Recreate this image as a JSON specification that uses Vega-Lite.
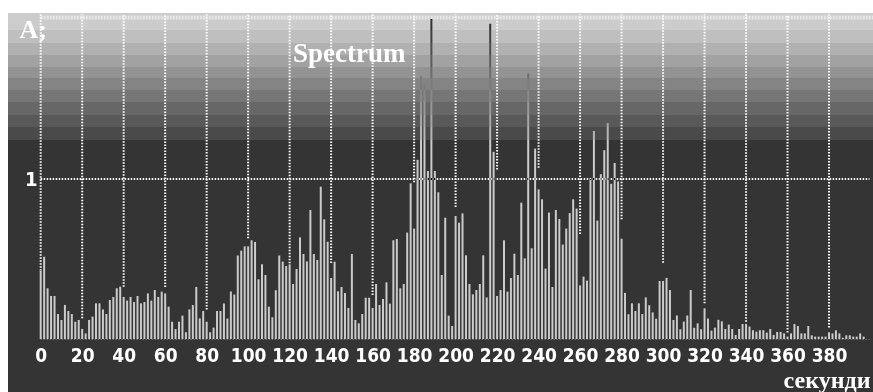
{
  "$schema": "https://vega.github.io/schema/vega-lite/v6.json",
  "width": 865,
  "height": 379,
  "autosize": {"type": "none"},
  "padding": {"left": 8, "top": 13, "right": 0, "bottom": 0},
  "background": "white",
  "config": {"view": {"stroke": null, "fill": "#343434"}},
  "datasets": {
    "spec": [
      {"t":0,"a":0.427},{"t":1.67,"a":0.514},{"t":3.33,"a":0.317},{"t":5,"a":0.269},{"t":6.67,"a":0.269},{"t":8.33,"a":0.156},{"t":10,"a":0.119},{"t":11.67,"a":0.213},{"t":13.33,"a":0.175},{"t":15,"a":0.156},
      {"t":16.67,"a":0.108},{"t":18.33,"a":0.119},{"t":20,"a":0.063},{"t":21.67,"a":0.035},{"t":23.33,"a":0.119},{"t":25,"a":0.14},{"t":26.67,"a":0.223},{"t":28.33,"a":0.223},{"t":30,"a":0.185},{"t":31.67,"a":0.156},
      {"t":33.33,"a":0.244},{"t":35,"a":0.263},{"t":36.67,"a":0.317},{"t":38.33,"a":0.327},{"t":40,"a":0.263},{"t":41.67,"a":0.24},{"t":43.33,"a":0.263},{"t":45,"a":0.231},{"t":46.67,"a":0.269},{"t":48.33,"a":0.223},
      {"t":50,"a":0.231},{"t":51.67,"a":0.285},{"t":53.33,"a":0.24},{"t":55,"a":0.306},{"t":56.67,"a":0.263},{"t":58.33,"a":0.296},{"t":60,"a":0.285},{"t":61.67,"a":0.202},{"t":63.33,"a":0.108},{"t":65,"a":0.062},
      {"t":66.67,"a":0.108},{"t":68.33,"a":0.146},{"t":70,"a":0.042},{"t":71.67,"a":0.185},{"t":73.33,"a":0.212},{"t":75,"a":0.325},{"t":76.67,"a":0.129},{"t":78.33,"a":0.175},{"t":80,"a":0.108},{"t":81.67,"a":0.042},
      {"t":83.33,"a":0.071},{"t":85,"a":0.175},{"t":86.67,"a":0.175},{"t":88.33,"a":0.222},{"t":90,"a":0.128},{"t":91.67,"a":0.297},{"t":93.33,"a":0.278},{"t":95,"a":0.522},{"t":96.67,"a":0.552},{"t":98.33,"a":0.579},
      {"t":100,"a":0.579},{"t":101.67,"a":0.617},{"t":103.33,"a":0.607},{"t":105,"a":0.373},{"t":106.67,"a":0.467},{"t":108.33,"a":0.4},{"t":110,"a":0.202},{"t":111.67,"a":0.136},{"t":113.33,"a":0.305},{"t":115,"a":0.522},
      {"t":116.67,"a":0.484},{"t":118.33,"a":0.456},{"t":120,"a":0.467},{"t":121.67,"a":0.344},{"t":123.33,"a":0.4375},{"t":125,"a":0.635},{"t":126.67,"a":0.531},{"t":128.33,"a":0.485},{"t":130,"a":0.806},{"t":131.67,"a":0.531},
      {"t":133.33,"a":0.494},{"t":135,"a":0.952},{"t":136.67,"a":0.748},{"t":138.33,"a":0.608},{"t":140,"a":0.381},{"t":141.67,"a":0.483},{"t":143.33,"a":0.298},{"t":145,"a":0.325},{"t":146.67,"a":0.2875},{"t":148.33,"a":0.194},
      {"t":150,"a":0.531},{"t":151.67,"a":0.119},{"t":153.33,"a":0.098},{"t":155,"a":0.156},{"t":156.67,"a":0.258},{"t":158.33,"a":0.258},{"t":160,"a":0.194},{"t":161.67,"a":0.344},{"t":163.33,"a":0.2125},{"t":165,"a":0.25},
      {"t":166.67,"a":0.354},{"t":168.33,"a":0.221},{"t":170,"a":0.617},{"t":171.67,"a":0.625},{"t":173.33,"a":0.317},{"t":175,"a":0.344},{"t":176.67,"a":0.665},{"t":178.33,"a":0.973},{"t":180,"a":0.69},{"t":181.67,"a":1.12},
      {"t":183.33,"a":1.64},{"t":185,"a":1.59},{"t":186.67,"a":1.05},{"t":188.33,"a":2.0},{"t":190,"a":1.05},{"t":191.67,"a":0.917},{"t":193.33,"a":0.4},{"t":195,"a":0.758},{"t":196.67,"a":0.146},{"t":198.33,"a":0.081},
      {"t":200,"a":0.769},{"t":201.67,"a":0.727},{"t":203.33,"a":0.785},{"t":205,"a":0.523},{"t":206.67,"a":0.344},{"t":208.33,"a":0.279},{"t":210,"a":0.306},{"t":211.67,"a":0.344},{"t":213.33,"a":0.523},{"t":215,"a":0.26},
      {"t":216.67,"a":1.97},{"t":218.33,"a":1.17},{"t":220,"a":0.269},{"t":221.67,"a":0.306},{"t":223.33,"a":0.617},{"t":225,"a":0.296},{"t":226.67,"a":0.381},{"t":228.33,"a":0.533},{"t":230,"a":0.4},{"t":231.67,"a":0.852},
      {"t":233.33,"a":0.504},{"t":235,"a":1.66},{"t":236.67,"a":0.567},{"t":238.33,"a":1.19},{"t":240,"a":0.935},{"t":241.67,"a":0.873},{"t":243.33,"a":0.44},{"t":245,"a":0.79},{"t":246.67,"a":0.325},{"t":248.33,"a":0.806},
      {"t":250,"a":0.75},{"t":251.67,"a":0.59},{"t":253.33,"a":0.69},{"t":255,"a":0.787},{"t":256.67,"a":0.873},{"t":258.33,"a":0.815},{"t":260,"a":0.335},{"t":261.67,"a":0.39},{"t":263.33,"a":0.365},{"t":265,"a":1.0},
      {"t":266.67,"a":1.3},{"t":268.33,"a":0.74},{"t":270,"a":1.03},{"t":271.67,"a":1.18},{"t":273.33,"a":1.35},{"t":275,"a":0.97},{"t":276.67,"a":1.1},{"t":278.33,"a":0.985},{"t":280,"a":0.627},{"t":281.67,"a":0.288},
      {"t":283.33,"a":0.155},{"t":285,"a":0.223},{"t":286.67,"a":0.175},{"t":288.33,"a":0.223},{"t":290,"a":0.156},{"t":291.67,"a":0.26},{"t":293.33,"a":0.211},{"t":295,"a":0.166},{"t":296.67,"a":0.127},{"t":298.33,"a":0.3625},
      {"t":300,"a":0.3625},{"t":301.67,"a":0.382},{"t":303.33,"a":0.306},{"t":305,"a":0.119},{"t":306.67,"a":0.147},{"t":308.33,"a":0.061},{"t":310,"a":0.109},{"t":311.67,"a":0.147},{"t":313.33,"a":0.306},{"t":315,"a":0.07},
      {"t":316.67,"a":0.098},{"t":318.33,"a":0.061},{"t":320,"a":0.192},{"t":321.67,"a":0.128},{"t":323.33,"a":0.052},{"t":325,"a":0.071},{"t":326.67,"a":0.12},{"t":328.33,"a":0.11},{"t":330,"a":0.0625},{"t":331.67,"a":0.09},
      {"t":333.33,"a":0.0625},{"t":335,"a":0.025},{"t":336.67,"a":0.0625},{"t":338.33,"a":0.094},{"t":340,"a":0.094},{"t":341.67,"a":0.078},{"t":343.33,"a":0.055},{"t":345,"a":0.046},{"t":346.67,"a":0.055},{"t":348.33,"a":0.055},
      {"t":350,"a":0.04},{"t":351.67,"a":0.0625},{"t":353.33,"a":0.025},{"t":355,"a":0.044},{"t":356.67,"a":0.044},{"t":358.33,"a":0.035},{"t":360,"a":0.015},{"t":361.67,"a":0.035},{"t":363.33,"a":0.094},{"t":365,"a":0.081},
      {"t":366.67,"a":0.035},{"t":368.33,"a":0.035},{"t":370,"a":0.081},{"t":371.67,"a":0.023},{"t":373.33,"a":0.015},{"t":375,"a":0.015},{"t":376.67,"a":0.015},{"t":378.33,"a":0.015},{"t":380,"a":0.042},{"t":381.67,"a":0.035},
      {"t":383.33,"a":0.054},{"t":385,"a":0.035},{"t":386.67,"a":0.008},{"t":388.33,"a":0.023},{"t":390,"a":0.023},{"t":391.67,"a":0.015},{"t":393.33,"a":0.015},{"t":395,"a":0.035},{"t":396.67,"a":0.015}
    ],
    "grid": [
      {"t":0,"lo":0.427},{"t":20,"lo":0.129},{"t":40,"lo":0.327},{"t":60,"lo":0.325},{"t":80,"lo":0.185},
      {"t":100,"lo":0.629},{"t":120,"lo":0.473},{"t":140,"lo":0.475},{"t":160,"lo":0.275},{"t":180,"lo":0.98},
      {"t":200,"lo":0.825},{"t":220,"lo":1.06},{"t":240,"lo":1.07},{"t":260,"lo":0.657},{"t":280,"lo":0.748},
      {"t":300,"lo":0.477},{"t":320,"lo":0.223},{"t":340,"lo":0.108},{"t":360,"lo":0.04},{"t":380,"lo":0.072}
    ]
  },
  "layer": [
    {
      "data": {"values": [{}]},
      "mark": {
        "type": "rect",
        "color": {
          "gradient": "linear", "x1": 0, "y1": 0, "x2": 0, "y2": 1,
          "stops": [
            {"offset": 0, "color": "#cccccc"}, {"offset": 0.0449, "color": "#cccccc"},
            {"offset": 0.0449, "color": "#bfbfbf"}, {"offset": 0.0792, "color": "#bfbfbf"},
            {"offset": 0.0792, "color": "#b1b1b1"}, {"offset": 0.1108, "color": "#b1b1b1"},
            {"offset": 0.1108, "color": "#a2a2a2"}, {"offset": 0.1425, "color": "#a2a2a2"},
            {"offset": 0.1425, "color": "#939393"}, {"offset": 0.1715, "color": "#939393"},
            {"offset": 0.1715, "color": "#848484"}, {"offset": 0.2032, "color": "#848484"},
            {"offset": 0.2032, "color": "#767676"}, {"offset": 0.2348, "color": "#767676"},
            {"offset": 0.2348, "color": "#676767"}, {"offset": 0.2691, "color": "#676767"},
            {"offset": 0.2691, "color": "#595959"}, {"offset": 0.3008, "color": "#595959"},
            {"offset": 0.3008, "color": "#4a4a4a"}, {"offset": 0.3351, "color": "#4a4a4a"},
            {"offset": 0.3351, "color": "#343434"}, {"offset": 1, "color": "#343434"}
          ]
        }
      },
      "encoding": {
        "x": {
          "datum": -15.76, "type": "quantitative",
          "scale": {"domain": [-15.76, 401.2], "nice": false, "zero": false},
          "axis": {
            "orient": "bottom", "offset": -53,
            "values": [0,20,40,60,80,100,120,140,160,180,200,220,240,260,280,300,320,340,360,380],
            "format": "d",
            "domain": false, "ticks": false, "grid": false,
            "labelColor": "white", "labelFont": "Liberation Sans Narrow, DejaVu Sans Condensed, sans-serif",
            "labelFontWeight": "bold", "labelFontSize": 19, "labelPadding": 7,
            "labelFlush": false, "labelOverlap": false,
            "title": "секунди", "titleColor": "white", "titleFont": "Liberation Serif, DejaVu Serif, serif",
            "titleFontWeight": "bold", "titleFontSize": 24, "titleAnchor": "end", "titleAlign": "right",
            "titleBaseline": "alphabetic", "titleX": 862, "titleY": 48, "zindex": 1
          }
        },
        "x2": {"datum": 401.2},
        "y": {
          "datum": 2.0375, "type": "quantitative",
          "scale": {"domain": [-0.33125, 2.0375], "nice": false, "zero": false},
          "axis": {
            "orient": "left", "offset": -32, "values": [1], "format": "d",
            "domain": false, "ticks": false, "grid": false,
            "labelColor": "white", "labelFont": "Liberation Sans Narrow, DejaVu Sans Condensed, sans-serif",
            "labelFontWeight": "bold", "labelFontSize": 20, "labelPadding": 3,
            "title": "A;", "titleAngle": 0, "titleAlign": "left", "titleBaseline": "alphabetic",
            "titleX": -21, "titleY": 24, "titleColor": "white",
            "titleFont": "Liberation Serif, DejaVu Serif, serif", "titleFontWeight": "bold", "titleFontSize": 26,
            "zindex": 1
          }
        },
        "y2": {"datum": -0.33125}
      }
    },
    {
      "data": {"values": [{}]},
      "mark": {"type": "rule", "color": "#e8e8e8", "strokeWidth": 4, "strokeDash": [2, 1]},
      "encoding": {
        "x": {"datum": 0, "type": "quantitative"},
        "x2": {"datum": 401.2},
        "y": {"datum": 2.01, "type": "quantitative"}
      }
    },
    {
      "data": {"values": [{}]},
      "mark": {"type": "rule", "color": "white", "strokeWidth": 2, "strokeDash": [1.5, 1.5]},
      "encoding": {
        "x": {"datum": 0, "type": "quantitative"},
        "x2": {"datum": 399.5},
        "y": {"datum": 1, "type": "quantitative"}
      }
    },
    {
      "data": {"values": [{}]},
      "mark": {"type": "rule", "color": "#8a8a8a", "strokeWidth": 1, "strokeDash": [1, 2]},
      "encoding": {
        "x": {"datum": 0, "type": "quantitative"},
        "x2": {"datum": 399.5},
        "y": {"datum": -0.003, "type": "quantitative"}
      }
    },
    {
      "data": {"name": "grid"},
      "mark": {"type": "rule", "color": "white", "strokeWidth": 2, "strokeDash": [1.5, 1.5]},
      "encoding": {
        "x": {"field": "t", "type": "quantitative"},
        "y": {"field": "lo", "type": "quantitative"},
        "y2": {"datum": 2.03}
      }
    },
    {
      "data": {"name": "spec"},
      "mark": {"type": "rule", "color": "white", "strokeWidth": 2, "blend": "difference"},
      "encoding": {
        "x": {"field": "t", "type": "quantitative"},
        "y": {"field": "a", "type": "quantitative"},
        "y2": {"datum": 0}
      }
    },
    {
      "data": {"values": [{}]},
      "mark": {"type": "text", "text": "Spectrum", "color": "white", "font": "Liberation Serif, DejaVu Serif, serif", "fontWeight": "bold", "fontSize": 27, "align": "left", "baseline": "alphabetic"},
      "encoding": {
        "x": {"datum": 121.6, "type": "quantitative"},
        "y": {"datum": 1.731, "type": "quantitative"}
      }
    }
  ]
}
